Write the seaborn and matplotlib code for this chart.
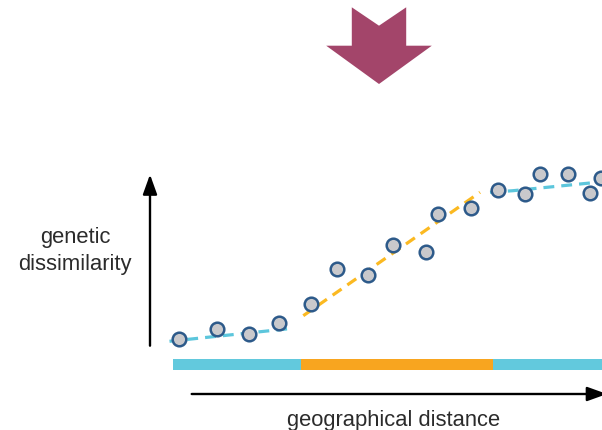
import numpy as np
import pandas as pd
import matplotlib
matplotlib.use("Agg")
import matplotlib.pyplot as plt
from matplotlib.patches import Polygon
import seaborn as sns

# Sampled populations: geographical distance vs. genetic dissimilarity
distance = [179.3, 216.7, 249.0, 279.3, 311.0, 336.5, 367.7, 392.7, 425.7,
            438.3, 471.0, 498.0, 525.0, 540.0, 567.7, 589.7, 600.5]
dissimilarity = [91.0, 101.0, 96.3, 107.0, 126.0, 161.0, 155.3, 185.3, 178.3,
                 216.0, 222.0, 239.7, 236.3, 255.7, 255.7, 236.7, 251.7]

# Piecewise trend segments (plateau / cline / plateau)
trend_x = [[169.5, 292.7], [303.3, 480.0], [490.0, 513.0, 540.0, 590.0, 604.0]]
trend_y = [[88.7, 101.7], [114.3, 237.7], [237.7, 239.3, 242.0, 247.0, 248.5]]
trend_kind = ["plateau", "cline", "plateau"]

# Zones along the distance axis
zone_edges = [173.0, 300.7, 492.7, 610.0]
zone_kind = ["plateau", "cline", "plateau"]

colors = {"plateau": "#62C9DD", "cline": "#F8A51F"}
line_colors = {"plateau": "#5CC6DC", "cline": "#FBB921"}

sns.set_theme(style="white")
plt.rcParams["font.family"] = ["Liberation Sans", "DejaVu Sans"]

fig = plt.figure(figsize=(6.02, 4.31), dpi=100)
ax = fig.add_axes([0, 0, 1, 1])
ax.set_xlim(0, 602)
ax.set_ylim(0, 431)
ax.axis("off")

# Big down arrow at the top
cx, top, w_sh, w_head, notch, sh_bot, tip = 379.0, 422.7, 27.2, 52.8, 18.4, 384.3, 346.0
arrow_pts = [(cx - w_sh, top), (cx, top - notch), (cx + w_sh, top),
             (cx + w_sh, sh_bot), (cx + w_head, sh_bot), (cx, tip),
             (cx - w_head, sh_bot), (cx - w_sh, sh_bot)]
ax.add_patch(Polygon(arrow_pts, closed=True, facecolor="#A3456A",
                     edgecolor="none", zorder=2))

# Axis arrows
head = "-|>,head_length=1.0,head_width=0.36"
ax.annotate("", xy=(150, 255.5), xytext=(150, 84.3), annotation_clip=False,
            arrowprops=dict(arrowstyle=head, color="black", lw=1.7,
                            shrinkA=0, shrinkB=0))
ax.annotate("", xy=(607, 36), xytext=(191.7, 36), annotation_clip=False,
            arrowprops=dict(arrowstyle=head, color="black", lw=1.7,
                            shrinkA=0, shrinkB=0))

# Zone bars
for left, right, kind in zip(zone_edges[:-1], zone_edges[1:], zone_kind):
    ax.barh(65.75, right - left, left=left, height=11.5,
            color=colors[kind], edgecolor="none", zorder=2)

# Dashed trend segments
for xs, ys, kind in zip(trend_x, trend_y, trend_kind):
    seg = pd.DataFrame({"x": xs, "y": ys})
    sns.lineplot(data=seg, x="x", y="y", ax=ax, color=line_colors[kind],
                 lw=2.3, sort=False, zorder=3,
                 dashes=False).lines[-1].set_dashes((3.4, 2.2))

# Sample points
pts = pd.DataFrame({"distance": distance, "dissimilarity": dissimilarity})
sns.scatterplot(data=pts, x="distance", y="dissimilarity", ax=ax, s=96,
                color="#C9C9CC", edgecolor="#2D5A8A", linewidth=1.8,
                zorder=4, clip_on=False)

ax.set_xlim(0, 602)
ax.set_ylim(0, 431)

ax.text(75, 180, "genetic\ndissimilarity", ha="center", va="center",
        fontsize=15.8, color="#2B2B2B", linespacing=1.32)
ax.text(394, 5, "geographical distance", ha="center", va="baseline",
        fontsize=15.8, color="#2B2B2B")

fig.savefig("out.png", dpi=100)
